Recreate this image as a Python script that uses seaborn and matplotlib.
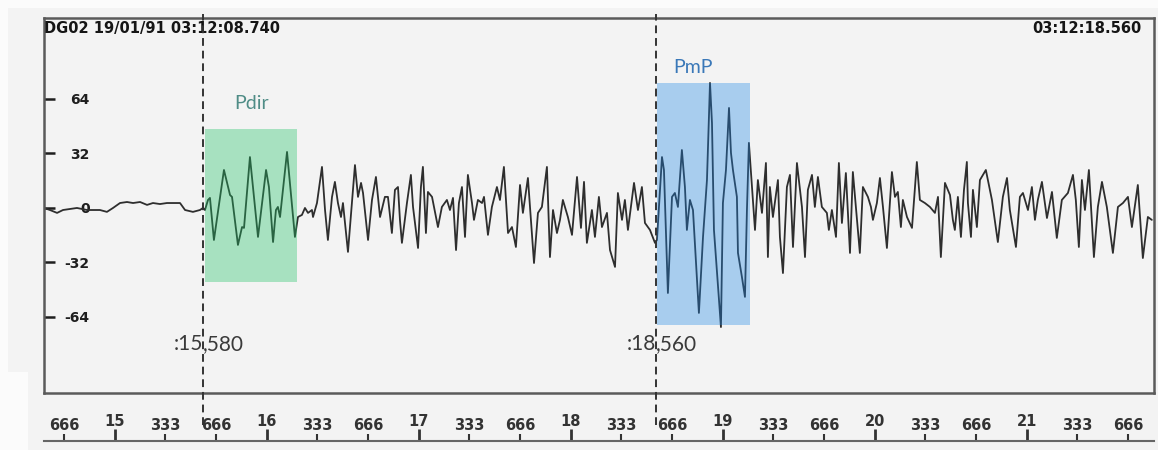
import matplotlib
matplotlib.use("Agg")
import matplotlib.pyplot as plt
import pandas as pd
import seaborn as sns
from matplotlib.patches import Rectangle

# trace: time in seconds, amplitude in counts
noise_t = [14.534, 14.573, 14.620, 14.659, 14.751, 14.817, 14.902, 14.948, 14.988, 15.034,
           15.080, 15.120, 15.166, 15.212, 15.251, 15.297, 15.343, 15.383, 15.429, 15.462,
           15.514, 15.560, 15.580]
noise_a = [0, -1.2, -2.9, -1.2, 0, -1.2, -1.2, -2.3, 0, 2.9,
           3.5, 2.9, 3.5, 1.8, 2.9, 2.3, 2.9, 2.9, 2.9, -1.2,
           -2.3, -1.2, 0]

pdir_t = [15.593, 15.613, 15.626, 15.652, 15.718, 15.758, 15.771, 15.810, 15.837, 15.850,
          15.889, 15.909, 15.942, 15.995, 16.014, 16.041, 16.060, 16.073, 16.087, 16.133,
          16.185, 16.205, 16.231, 16.251, 16.271, 16.297, 16.304, 16.330, 16.363, 16.383,
          16.402, 16.429, 16.448, 16.468, 16.488, 16.501, 16.534, 16.560, 16.580, 16.600,
          16.620, 16.633, 16.666, 16.692, 16.718, 16.745, 16.777]
pdir_a = [-1.2, 4.7, 5.9, -18.8, 22.3, 7.6, 6.5, -21.7, -11.2, -11.7,
          29.9, 12.3, -17.0, 22.3, 12.3, -20.0, -1.2, 0.6, -5.3, 32.9,
          -17.0, -5.3, -4.1, 0, -2.9, -1.2, -5.3, 2.9, 24.1, -1.2,
          -18.8, 6.5, 15.3, 2.9, -5.3, 2.9, -25.8, 2.9, 25.2, 6.5,
          14.7, 8.8, -18.8, 4.7, 18.2, -5.3, 6.5]

mid_t = [16.797, 16.823, 16.843, 16.863, 16.876, 16.889, 16.922, 16.948, 16.962, 16.995,
         17.014, 17.027, 17.047, 17.060, 17.087, 17.126, 17.152, 17.185, 17.205, 17.225,
         17.245, 17.264, 17.284, 17.304, 17.323, 17.350, 17.363, 17.389, 17.416, 17.429,
         17.455, 17.481, 17.514, 17.534, 17.560, 17.587, 17.613, 17.639, 17.666, 17.685,
         17.718, 17.758, 17.784, 17.810, 17.843, 17.863, 17.883, 17.909, 17.929, 17.948,
         17.981, 18.008, 18.041]
mid_a = [6.5, -14.7, 10.6, 12.3, -7.0, -20.5, 2.9, 19.4, 0.6, -23.5,
         12.3, 24.1, -14.7, 9.4, 6.5, -11.2, 0.6, 4.7, -1.2, 5.9,
         -24.7, 2.9, 12.3, -17.0, 19.4, 2.9, -7.0, 4.7, 2.9, 6.5,
         -15.8, 0.6, 12.3, 4.7, 24.1, -14.7, -11.2, -22.9, 13.5, -2.9,
         17.6, -32.3, -2.9, 0.6, 24.1, -28.8, -1.2, -14.7, -7.0, 4.7,
         -5.3, -15.8, 18.2]

pmp_t = [18.067, 18.087, 18.106, 18.139, 18.159, 18.185, 18.205, 18.238, 18.258, 18.291,
         18.310, 18.337, 18.356, 18.376, 18.416, 18.442, 18.468, 18.488, 18.521, 18.554,
         18.567, 18.600, 18.613, 18.639, 18.666, 18.685, 18.705, 18.731, 18.751, 18.764,
         18.784, 18.804, 18.843, 18.870, 18.896, 18.916, 18.929, 18.942, 18.988, 19.001,
         19.021, 19.041, 19.054, 19.067, 19.093, 19.100, 19.126, 19.146, 19.159, 19.172,
         19.192, 19.212, 19.231, 19.258]
pmp_a = [-11.7, 15.3, -20.5, -1.2, -17.0, 6.5, -11.2, -2.9, -24.7, -34.6,
         8.8, -7.0, 4.7, -12.9, 14.7, -1.2, 12.3, -8.8, -12.9, -20.5,
         -18.8, 29.9, 22.3, -49.9, 6.5, 8.8, 0.6, 34.0, 12.3, -12.9,
         4.7, -1.2, -61.6, -17.0, 16.4, 73.4, 49.9, -12.9, -69.9, 2.9,
         22.3, 58.7, 32.3, 22.3, 6.5, -26.4, -40.5, -52.2, -1.2, 38.2,
         12.3, -12.9, 16.4, -2.9]

coda1_t = [19.284, 19.297, 19.310, 19.330, 19.363, 19.376, 19.396, 19.422, 19.442, 19.462,
           19.488, 19.521, 19.541, 19.560, 19.587, 19.606, 19.626, 19.652, 19.685, 19.698,
           19.718, 19.745, 19.764, 19.784, 19.810, 19.837, 19.856, 19.883, 19.902, 19.922,
           19.955, 19.975, 19.988, 20.014, 20.034, 20.054, 20.080, 20.113, 20.133, 20.152,
           20.172, 20.185, 20.212, 20.245, 20.277, 20.297, 20.330, 20.363, 20.396, 20.416,
           20.435, 20.462, 20.495, 20.514]
coda1_a = [26.4, -28.8, 12.3, -5.3, 16.4, -17.0, -38.2, 12.3, 19.4, -22.9,
           26.4, 0.6, -28.8, 10.6, 19.4, 0.6, 18.2, 0.6, -2.9, -12.9,
           -1.2, -17.0, 26.4, -8.8, 20.5, -26.4, 21.1, -7.0, -26.4, 12.3,
           6.5, 0.6, -7.0, 2.9, 17.6, 0.6, -23.5, 21.1, 6.5, 9.4,
           -11.2, 4.7, -5.3, -11.7, 27.0, 4.7, 2.9, 0.6, -2.9, 6.5,
           -28.8, 14.7, 7.6, -7.0]

coda2_t = [20.527, 20.547, 20.567, 20.587, 20.606, 20.613, 20.633, 20.646, 20.672, 20.692,
           20.731, 20.771, 20.810, 20.843, 20.870, 20.889, 20.929, 20.955, 20.975, 21.008,
           21.034, 21.054, 21.073, 21.100, 21.133, 21.166, 21.198, 21.231, 21.271, 21.304,
           21.323, 21.343, 21.363, 21.383, 21.409, 21.442, 21.468, 21.495, 21.527, 21.567,
           21.600, 21.633, 21.666, 21.692, 21.731, 21.764, 21.797, 21.823]
coda2_a = [-12.9, 6.5, -17.0, 10.6, 27.0, 2.9, -17.0, 10.6, -11.2, 16.4,
           22.3, 4.7, -20.0, 6.5, 17.6, -1.2, -22.9, 6.5, 8.8, -1.2,
           12.3, -7.0, 4.7, 15.3, -5.9, 9.4, -17.6, 4.7, 8.8, 19.4,
           4.7, -22.9, 16.4, -1.2, 22.3, -28.8, 0.6, 15.3, 0.6, -26.4,
           0.6, 2.9, 6.5, -11.2, 13.5, -29.4, -5.3, -7.0]

# phase windows (t0, t1, amp_lo, amp_hi) and picks
pdir_window = (15.593, 16.198, -43.4, 46.4)
pmp_window = (18.567, 19.179, -68.7, 73.4)
pick_times = [15.580, 18.560]
pick_left = [":15", ":18"]
pick_right = [",580", ",560"]

y_ticks = [64, 32, 0, -32, -64]
y_tick_labels = ["64", "32", "0", "-32", "-64"]

ruler_major = [15, 16, 17, 18, 19, 20, 21]
ruler_major_labels = ["15", "16", "17", "18", "19", "20", "21"]
ruler_minor = [14.666, 15.333, 15.666, 16.333, 16.666, 17.333, 17.666, 18.333, 18.666,
               19.333, 19.666, 20.333, 20.666, 21.333, 21.666]
ruler_minor_labels = ["666", "333", "666", "333", "666", "333", "666", "333", "666",
                      "333", "666", "333", "666", "333", "666"]

x_range = (14.534, 21.837)
y_range = (-108.6, 111.5)

trace = pd.DataFrame({
    "time": noise_t + pdir_t + mid_t + pmp_t + coda1_t + coda2_t,
    "amp": noise_a + pdir_a + mid_a + pmp_a + coda1_a + coda2_a,
})

sns.set_theme(style="white")
plt.rcParams["font.family"] = ["DejaVu Sans"]

bg = "#f3f3f3"
fig = plt.figure(figsize=(11.58, 4.5), dpi=100, facecolor="#fbfbfb")
fig.patches.append(Rectangle((0.007, 0.173), 0.993, 0.809, transform=fig.transFigure,
                             facecolor=bg, edgecolor="none", zorder=-10))
fig.patches.append(Rectangle((0.024, 0.0), 0.976, 0.174, transform=fig.transFigure,
                             facecolor=bg, edgecolor="none", zorder=-10))

ax = fig.add_axes([0.038, 0.1267, 0.9585, 0.8333])
ax.set_facecolor(bg)
sns.lineplot(data=trace, x="time", y="amp", ax=ax, color="#2e2e2e", linewidth=1.3,
             sort=False, estimator=None, zorder=2)

t0, t1, lo, hi = pdir_window
ax.add_patch(Rectangle((t0, lo), t1 - t0, hi - lo, facecolor="#21c267", alpha=0.36,
                       edgecolor="none", zorder=3))
t0, t1, lo, hi = pmp_window
ax.add_patch(Rectangle((t0, lo), t1 - t0, hi - lo, facecolor="#1d86e6", alpha=0.35,
                       edgecolor="none", zorder=3))

for t, left, right in zip(pick_times, pick_left, pick_right):
    ax.axvline(t, ymin=-0.085, ymax=1.01, clip_on=False, color="#333333", lw=1.4,
               dashes=(4, 2.5), zorder=4)
    ax.text(t, -80, left, ha="right", va="center", fontsize=15, family="Lato", color="#3a3a3a")
    ax.text(t, -80, right, ha="left", va="center", fontsize=15, family="Lato", color="#3a3a3a")

ax.text(15.902, 61.6, "Pdir", ha="center", va="center", fontsize=14, family="Lato", color="#4f8c86")
ax.text(18.804, 82.2, "PmP", ha="center", va="center", fontsize=14, family="Lato", color="#3a78b8")

ax.text(0.0, 0.992, "DG02 19/01/91 03:12:08.740", transform=ax.transAxes, ha="left", va="top",
        fontsize=10.5, fontweight="bold", color="#151515")
ax.text(0.989, 0.992, "03:12:18.560", transform=ax.transAxes, ha="right", va="top",
        fontsize=10.5, fontweight="bold", color="#151515")

ax.set_xlim(*x_range)
ax.set_ylim(*y_range)
ax.set_xticks([])
ax.set_yticks(y_ticks, labels=y_tick_labels)
ax.tick_params(axis="y", direction="in", length=8, width=1.8, pad=-33, labelsize=10,
               colors="#1e1e1e", left=True)
for lbl in ax.get_yticklabels():
    lbl.set_fontweight("bold")
ax.set_xlabel("")
ax.set_ylabel("")
for sp in ax.spines.values():
    sp.set_color("#5a5a5a")
    sp.set_linewidth(1.8)

# time ruler under the trace
ax2 = fig.add_axes([0.038, 0.0, 0.9585, 0.02])
ax2.patch.set_alpha(0)
ax2.set_xlim(*x_range)
ax2.set_yticks([])
for name, sp in ax2.spines.items():
    sp.set_visible(name == "top")
ax2.spines["top"].set_color("#666666")
ax2.spines["top"].set_linewidth(1.5)
ax2.xaxis.tick_top()
ax2.set_xticks(ruler_major, labels=ruler_major_labels)
ax2.set_xticks(ruler_minor, labels=ruler_minor_labels, minor=True)
ax2.tick_params(axis="x", which="major", direction="out", length=9, width=2, pad=0,
                labelsize=10.5, colors="#333333")
ax2.tick_params(axis="x", which="minor", direction="out", length=5, width=1.5, pad=1,
                labelsize=10.5, colors="#333333")
for lbl in ax2.get_xticklabels(which="both"):
    lbl.set_fontweight("bold")

fig.savefig("out.png", dpi=100, facecolor=fig.get_facecolor())
